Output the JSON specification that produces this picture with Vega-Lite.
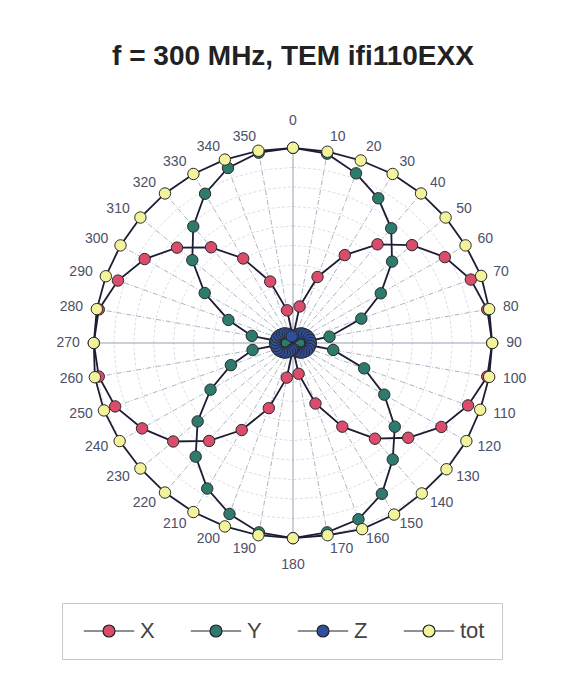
{
  "$schema": "https://vega.github.io/schema/vega-lite/v6.json",
  "width": 498,
  "height": 488,
  "autosize": {"type": "none"},
  "padding": {"left": 44, "top": 99, "right": 30, "bottom": 103},
  "background": "white",
  "title": {
    "text": "f = 300 MHz, TEM ifi110EXX",
    "font": "Liberation Sans",
    "fontSize": 28,
    "fontWeight": "bold",
    "color": "#222222",
    "anchor": "middle",
    "offset": 28
  },
  "datasets": {
    "rings": [
      {"ring": 0.1, "a": [0,10,20,30,40,50,60,70,80,90,100,110,120,130,140,150,160,170,180,190,200,210,220,230,240,250,260,270,280,290,300,310,320,330,340,350]},
      {"ring": 0.2, "a": [0,10,20,30,40,50,60,70,80,90,100,110,120,130,140,150,160,170,180,190,200,210,220,230,240,250,260,270,280,290,300,310,320,330,340,350]},
      {"ring": 0.3, "a": [0,10,20,30,40,50,60,70,80,90,100,110,120,130,140,150,160,170,180,190,200,210,220,230,240,250,260,270,280,290,300,310,320,330,340,350]},
      {"ring": 0.4, "a": [0,10,20,30,40,50,60,70,80,90,100,110,120,130,140,150,160,170,180,190,200,210,220,230,240,250,260,270,280,290,300,310,320,330,340,350]},
      {"ring": 0.5, "a": [0,10,20,30,40,50,60,70,80,90,100,110,120,130,140,150,160,170,180,190,200,210,220,230,240,250,260,270,280,290,300,310,320,330,340,350]},
      {"ring": 0.6, "a": [0,10,20,30,40,50,60,70,80,90,100,110,120,130,140,150,160,170,180,190,200,210,220,230,240,250,260,270,280,290,300,310,320,330,340,350]},
      {"ring": 0.7, "a": [0,10,20,30,40,50,60,70,80,90,100,110,120,130,140,150,160,170,180,190,200,210,220,230,240,250,260,270,280,290,300,310,320,330,340,350]},
      {"ring": 0.8, "a": [0,10,20,30,40,50,60,70,80,90,100,110,120,130,140,150,160,170,180,190,200,210,220,230,240,250,260,270,280,290,300,310,320,330,340,350]},
      {"ring": 0.9, "a": [0,10,20,30,40,50,60,70,80,90,100,110,120,130,140,150,160,170,180,190,200,210,220,230,240,250,260,270,280,290,300,310,320,330,340,350]},
      {"ring": 1.0, "a": [0,10,20,30,40,50,60,70,80,90,100,110,120,130,140,150,160,170,180,190,200,210,220,230,240,250,260,270,280,290,300,310,320,330,340,350]}
    ],
    "spokes": [
      {"a": 0},{"a": 10},{"a": 20},{"a": 30},{"a": 40},{"a": 50},{"a": 60},{"a": 70},{"a": 80},
      {"a": 90},{"a": 100},{"a": 110},{"a": 120},{"a": 130},{"a": 140},{"a": 150},{"a": 160},{"a": 170},
      {"a": 180},{"a": 190},{"a": 200},{"a": 210},{"a": 220},{"a": 230},{"a": 240},{"a": 250},{"a": 260},
      {"a": 270},{"a": 280},{"a": 290},{"a": 300},{"a": 310},{"a": 320},{"a": 330},{"a": 340},{"a": 350}
    ],
    "series": [
      {"s":"X","a":0,"r":0.03},{"s":"X","a":10,"r":0.19},{"s":"X","a":20,"r":0.36},{"s":"X","a":30,"r":0.52},
      {"s":"X","a":40,"r":0.66},{"s":"X","a":50,"r":0.78},{"s":"X","a":60,"r":0.88},{"s":"X","a":70,"r":0.95},
      {"s":"X","a":80,"r":0.99},{"s":"X","a":90,"r":1.0},{"s":"X","a":100,"r":0.99},{"s":"X","a":110,"r":0.935},
      {"s":"X","a":120,"r":0.86},{"s":"X","a":130,"r":0.755},{"s":"X","a":140,"r":0.64},{"s":"X","a":150,"r":0.495},
      {"s":"X","a":160,"r":0.33},{"s":"X","a":170,"r":0.16},{"s":"X","a":180,"r":0.03},{"s":"X","a":190,"r":0.18},
      {"s":"X","a":200,"r":0.355},{"s":"X","a":210,"r":0.515},{"s":"X","a":220,"r":0.655},{"s":"X","a":230,"r":0.785},
      {"s":"X","a":240,"r":0.875},{"s":"X","a":250,"r":0.95},{"s":"X","a":260,"r":0.99},{"s":"X","a":270,"r":1.0},
      {"s":"X","a":280,"r":0.99},{"s":"X","a":290,"r":0.935},{"s":"X","a":300,"r":0.86},{"s":"X","a":310,"r":0.76},
      {"s":"X","a":320,"r":0.64},{"s":"X","a":330,"r":0.5},{"s":"X","a":340,"r":0.335},{"s":"X","a":350,"r":0.17},
      {"s":"Y","a":0,"r":1.0},{"s":"Y","a":10,"r":0.985},{"s":"Y","a":20,"r":0.925},{"s":"Y","a":30,"r":0.856},
      {"s":"Y","a":40,"r":0.767},{"s":"Y","a":50,"r":0.649},{"s":"Y","a":60,"r":0.509},{"s":"Y","a":70,"r":0.365},
      {"s":"Y","a":80,"r":0.186},{"s":"Y","a":90,"r":0.03},{"s":"Y","a":100,"r":0.205},{"s":"Y","a":110,"r":0.38},
      {"s":"Y","a":120,"r":0.529},{"s":"Y","a":130,"r":0.667},{"s":"Y","a":140,"r":0.779},{"s":"Y","a":150,"r":0.892},
      {"s":"Y","a":160,"r":0.961},{"s":"Y","a":170,"r":0.985},{"s":"Y","a":180,"r":1.0},{"s":"Y","a":190,"r":0.985},
      {"s":"Y","a":200,"r":0.932},{"s":"Y","a":210,"r":0.861},{"s":"Y","a":220,"r":0.76},{"s":"Y","a":230,"r":0.625},
      {"s":"Y","a":240,"r":0.478},{"s":"Y","a":250,"r":0.332},{"s":"Y","a":260,"r":0.206},{"s":"Y","a":270,"r":0.03},
      {"s":"Y","a":280,"r":0.21},{"s":"Y","a":290,"r":0.345},{"s":"Y","a":300,"r":0.512},{"s":"Y","a":310,"r":0.66},
      {"s":"Y","a":320,"r":0.779},{"s":"Y","a":330,"r":0.883},{"s":"Y","a":340,"r":0.954},{"s":"Y","a":350,"r":0.99},
      {"s":"Z","a":0,"r":0.03},{"s":"Z","a":10,"r":0.035},{"s":"Z","a":20,"r":0.045},{"s":"Z","a":30,"r":0.055},
      {"s":"Z","a":40,"r":0.065},{"s":"Z","a":50,"r":0.072},{"s":"Z","a":60,"r":0.08},{"s":"Z","a":70,"r":0.085},
      {"s":"Z","a":80,"r":0.088},{"s":"Z","a":90,"r":0.09},{"s":"Z","a":100,"r":0.088},{"s":"Z","a":110,"r":0.085},
      {"s":"Z","a":120,"r":0.08},{"s":"Z","a":130,"r":0.072},{"s":"Z","a":140,"r":0.065},{"s":"Z","a":150,"r":0.055},
      {"s":"Z","a":160,"r":0.045},{"s":"Z","a":170,"r":0.035},{"s":"Z","a":180,"r":0.03},{"s":"Z","a":190,"r":0.035},
      {"s":"Z","a":200,"r":0.045},{"s":"Z","a":210,"r":0.055},{"s":"Z","a":220,"r":0.065},{"s":"Z","a":230,"r":0.072},
      {"s":"Z","a":240,"r":0.08},{"s":"Z","a":250,"r":0.085},{"s":"Z","a":260,"r":0.088},{"s":"Z","a":270,"r":0.09},
      {"s":"Z","a":280,"r":0.088},{"s":"Z","a":290,"r":0.085},{"s":"Z","a":300,"r":0.08},{"s":"Z","a":310,"r":0.072},
      {"s":"Z","a":320,"r":0.065},{"s":"Z","a":330,"r":0.055},{"s":"Z","a":340,"r":0.045},{"s":"Z","a":350,"r":0.035},
      {"s":"tot","a":0,"r":1.0},{"s":"tot","a":10,"r":0.995},{"s":"tot","a":20,"r":0.995},{"s":"tot","a":30,"r":1.0},
      {"s":"tot","a":40,"r":1.0},{"s":"tot","a":50,"r":1.0},{"s":"tot","a":60,"r":1.0},{"s":"tot","a":70,"r":1.005},
      {"s":"tot","a":80,"r":1.0},{"s":"tot","a":90,"r":1.0},{"s":"tot","a":100,"r":1.0},{"s":"tot","a":110,"r":1.0},
      {"s":"tot","a":120,"r":1.005},{"s":"tot","a":130,"r":1.006},{"s":"tot","a":140,"r":1.006},{"s":"tot","a":150,"r":1.015},
      {"s":"tot","a":160,"r":1.015},{"s":"tot","a":170,"r":1.0},{"s":"tot","a":180,"r":1.0},{"s":"tot","a":190,"r":1.0},
      {"s":"tot","a":200,"r":1.0},{"s":"tot","a":210,"r":1.0},{"s":"tot","a":220,"r":1.0},{"s":"tot","a":230,"r":1.0},
      {"s":"tot","a":240,"r":1.005},{"s":"tot","a":250,"r":1.01},{"s":"tot","a":260,"r":1.01},{"s":"tot","a":270,"r":1.0},
      {"s":"tot","a":280,"r":1.0},{"s":"tot","a":290,"r":1.0},{"s":"tot","a":300,"r":1.0},{"s":"tot","a":310,"r":1.0},
      {"s":"tot","a":320,"r":1.0},{"s":"tot","a":330,"r":1.0},{"s":"tot","a":340,"r":1.0},{"s":"tot","a":350,"r":1.0}
    ]
  },
  "layer": [
    {
      "data": {"name": "rings"},
      "transform": [
        {"flatten": ["a"]},
        {"calculate": "datum.ring * sin(datum.a * PI / 180)", "as": "px"},
        {"calculate": "datum.ring * cos(datum.a * PI / 180)", "as": "py"}
      ],
      "mark": {"type": "line", "interpolate": "linear-closed", "stroke": "#c2c8d8", "strokeWidth": 0.6, "strokeDash": [3, 2]},
      "encoding": {
        "x": {"field": "px", "type": "quantitative", "scale": {"domain": [-1.25, 1.25], "nice": false, "zero": false}, "axis": null},
        "y": {"field": "py", "type": "quantitative", "scale": {"domain": [-1.25, 1.25], "nice": false, "zero": false}, "axis": null},
        "detail": {"field": "ring", "type": "nominal"},
        "order": {"field": "a", "type": "quantitative"}
      }
    },
    {
      "data": {"name": "spokes"},
      "transform": [
        {"filter": "datum.a % 90 != 0"},
        {"calculate": "sin(datum.a * PI / 180)", "as": "px"},
        {"calculate": "cos(datum.a * PI / 180)", "as": "py"},
        {"calculate": "0", "as": "c0"}
      ],
      "mark": {"type": "rule", "stroke": "#97a0b8", "strokeWidth": 0.8, "strokeDash": [5, 2, 1, 2]},
      "encoding": {
        "x": {"field": "px", "type": "quantitative", "scale": {"domain": [-1.25, 1.25], "nice": false, "zero": false}, "axis": null},
        "y": {"field": "py", "type": "quantitative", "scale": {"domain": [-1.25, 1.25], "nice": false, "zero": false}, "axis": null},
        "x2": {"field": "c0"},
        "y2": {"field": "c0"}
      }
    },
    {
      "data": {"name": "spokes"},
      "transform": [
        {"filter": "datum.a % 90 == 0"},
        {"calculate": "sin(datum.a * PI / 180)", "as": "px"},
        {"calculate": "cos(datum.a * PI / 180)", "as": "py"},
        {"calculate": "0", "as": "c0"}
      ],
      "mark": {"type": "rule", "stroke": "#8b94ad", "strokeWidth": 0.9},
      "encoding": {
        "x": {"field": "px", "type": "quantitative", "scale": {"domain": [-1.25, 1.25], "nice": false, "zero": false}, "axis": null},
        "y": {"field": "py", "type": "quantitative", "scale": {"domain": [-1.25, 1.25], "nice": false, "zero": false}, "axis": null},
        "x2": {"field": "c0"},
        "y2": {"field": "c0"}
      }
    },
    {
      "data": {"name": "series"},
      "transform": [
        {"calculate": "datum.r * sin(datum.a * PI / 180)", "as": "px"},
        {"calculate": "datum.r * cos(datum.a * PI / 180)", "as": "py"}
      ],
      "mark": {"type": "line", "interpolate": "linear-closed", "stroke": "#1c1c34", "strokeWidth": 1.8},
      "encoding": {
        "x": {"field": "px", "type": "quantitative", "scale": {"domain": [-1.25, 1.25], "nice": false, "zero": false}, "axis": null},
        "y": {"field": "py", "type": "quantitative", "scale": {"domain": [-1.25, 1.25], "nice": false, "zero": false}, "axis": null},
        "detail": {"field": "s", "type": "nominal"},
        "order": {"field": "a", "type": "quantitative"}
      }
    },
    {
      "data": {"name": "series"},
      "transform": [
        {"calculate": "datum.r * sin(datum.a * PI / 180)", "as": "px"},
        {"calculate": "datum.r * cos(datum.a * PI / 180)", "as": "py"}
      ],
      "mark": {"type": "point", "shape": "circle", "filled": true, "size": 130, "opacity": 1, "stroke": "#2a2a2a", "strokeWidth": 1},
      "encoding": {
        "x": {"field": "px", "type": "quantitative", "scale": {"domain": [-1.25, 1.25], "nice": false, "zero": false}, "axis": null},
        "y": {"field": "py", "type": "quantitative", "scale": {"domain": [-1.25, 1.25], "nice": false, "zero": false}, "axis": null},
        "color": {
          "field": "s", "type": "nominal",
          "scale": {"domain": ["X", "Y", "Z", "tot"], "range": ["#d94c6c", "#2e7b6e", "#2d4f9e", "#f3f39c"]},
          "legend": {
            "title": null,
            "orient": "none",
            "legendX": 18,
            "legendY": 504,
            "direction": "horizontal",
            "symbolType": "M-4.2,0L-1,0M1,0L4.2,0M1,0A1,1,0,1,1,-1,0A1,1,0,1,1,1,0Z",
            "symbolSize": 144,
            "symbolStrokeColor": "#222222",
            "symbolStrokeWidth": 1.2,
            "symbolOffset": 19,
            "labelOffset": 20,
            "labelFont": "Liberation Sans",
            "labelFontSize": 22,
            "labelColor": "#444444",
            "columnPadding": 31,
            "strokeColor": "#c8c8c8",
            "fillColor": "white",
            "padding": 17
          }
        }
      }
    },
    {
      "data": {"name": "spokes"},
      "transform": [
        {"filter": "datum.a > 0 && datum.a < 180"},
        {"calculate": "1.07 * sin(datum.a * PI / 180)", "as": "px"},
        {"calculate": "1.07 * cos(datum.a * PI / 180)", "as": "py"}
      ],
      "mark": {"type": "text", "align": "left", "baseline": "middle", "font": "Liberation Sans", "fontSize": 14, "color": "#4c5068"},
      "encoding": {
        "x": {"field": "px", "type": "quantitative", "scale": {"domain": [-1.25, 1.25], "nice": false, "zero": false}, "axis": null},
        "y": {"field": "py", "type": "quantitative", "scale": {"domain": [-1.25, 1.25], "nice": false, "zero": false}, "axis": null},
        "text": {"field": "a", "type": "quantitative"}
      }
    },
    {
      "data": {"name": "spokes"},
      "transform": [
        {"filter": "datum.a > 180"},
        {"calculate": "1.07 * sin(datum.a * PI / 180)", "as": "px"},
        {"calculate": "1.07 * cos(datum.a * PI / 180)", "as": "py"}
      ],
      "mark": {"type": "text", "align": "right", "baseline": "middle", "font": "Liberation Sans", "fontSize": 14, "color": "#4c5068"},
      "encoding": {
        "x": {"field": "px", "type": "quantitative", "scale": {"domain": [-1.25, 1.25], "nice": false, "zero": false}, "axis": null},
        "y": {"field": "py", "type": "quantitative", "scale": {"domain": [-1.25, 1.25], "nice": false, "zero": false}, "axis": null},
        "text": {"field": "a", "type": "quantitative"}
      }
    },
    {
      "data": {"name": "spokes"},
      "transform": [
        {"filter": "datum.a == 0 || datum.a == 180"},
        {"calculate": "1.135 * sin(datum.a * PI / 180)", "as": "px"},
        {"calculate": "1.135 * cos(datum.a * PI / 180)", "as": "py"}
      ],
      "mark": {"type": "text", "align": "center", "baseline": "middle", "font": "Liberation Sans", "fontSize": 14, "color": "#4c5068"},
      "encoding": {
        "x": {"field": "px", "type": "quantitative", "scale": {"domain": [-1.25, 1.25], "nice": false, "zero": false}, "axis": null},
        "y": {"field": "py", "type": "quantitative", "scale": {"domain": [-1.25, 1.25], "nice": false, "zero": false}, "axis": null},
        "text": {"field": "a", "type": "quantitative"}
      }
    }
  ],
  "config": {"view": {"stroke": null}}
}
